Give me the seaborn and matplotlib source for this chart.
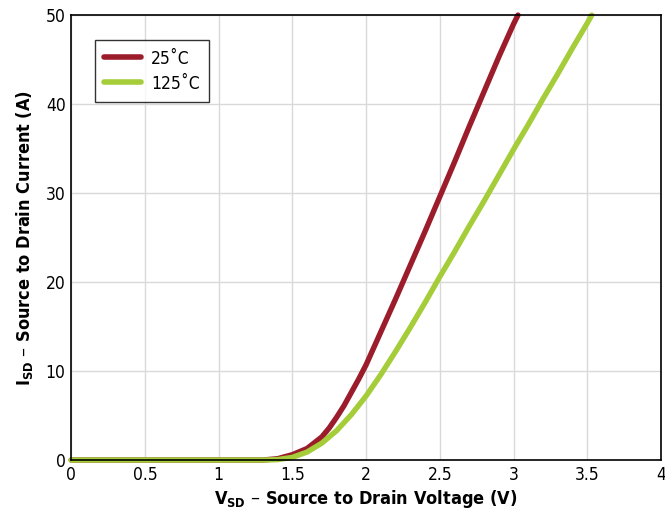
import matplotlib
matplotlib.use("Agg")
import matplotlib.pyplot as plt
import numpy as np
import pandas as pd
import seaborn as sns
from matplotlib import font_manager

# forward diode curve
v_25 = [0, 0.5, 1.0, 1.3, 1.4, 1.5, 1.6, 1.7, 1.75, 1.8, 1.85, 1.9, 1.95, 2.0, 2.1, 2.2,
        2.3, 2.4, 2.5, 2.6, 2.7, 2.8, 2.9, 3.0, 3.03]
i_25 = [0, 0, 0, 0, 0.15, 0.6, 1.3, 2.6, 3.6, 4.8, 6.1, 7.6, 9.1, 10.7, 14.4, 18.1,
        21.9, 25.7, 29.6, 33.5, 37.5, 41.4, 45.3, 49.0, 50.0]

v_125 = [0, 0.5, 1.0, 1.3, 1.4, 1.5, 1.6, 1.7, 1.8, 1.9, 2.0, 2.1, 2.2, 2.3, 2.4, 2.5,
         2.6, 2.7, 2.8, 2.9, 3.0, 3.1, 3.2, 3.3, 3.4, 3.5, 3.53]
i_125 = [0, 0, 0, 0, 0.05, 0.3, 0.9, 1.9, 3.3, 5.1, 7.2, 9.6, 12.2, 14.9, 17.7, 20.6,
         23.4, 26.3, 29.1, 32.0, 34.9, 37.7, 40.6, 43.4, 46.3, 49.1, 50.0]

labels = ["25˚C", "125˚C"]
colors = ["#9b1c2b", "#a5cd39"]

df = pd.concat([
    pd.DataFrame({"v": v_25, "i": i_25, "temp": labels[0]}),
    pd.DataFrame({"v": v_125, "i": i_125, "temp": labels[1]}),
])

sns.set_style("white")
names = {f.name for f in font_manager.fontManager.ttflist}
narrow = [n for n in ["Liberation Sans Narrow", "DejaVu Sans Condensed"] if n in names]
plt.rcParams["font.family"] = narrow + ["DejaVu Sans"]
plt.rcParams["font.stretch"] = "condensed"
plt.rcParams["text.color"] = "black"
plt.rcParams["axes.labelcolor"] = "black"
plt.rcParams["xtick.color"] = "black"
plt.rcParams["ytick.color"] = "black"

fig = plt.figure(figsize=(6.65, 5.21), dpi=100)
ax = fig.add_axes([0.107, 0.117, 0.887, 0.854])

sns.lineplot(data=df, x="v", y="i", hue="temp", palette=colors, linewidth=3.9,
             ax=ax, legend=True, sort=False)
for ln in ax.lines:
    ln.set_clip_on(False)
    ln.set_solid_joinstyle("round")

ax.set_xlim(0, 4)
ax.set_ylim(0, 50)
ax.set_xticks(np.arange(0, 4.01, 0.5))
ax.set_xticklabels(["0", "0.5", "1", "1.5", "2", "2.5", "3", "3.5", "4"])
ax.set_yticks(range(0, 51, 10))
ax.tick_params(labelsize=12.5, length=0, pad=4)
ax.grid(True, color="#d9d9d9", linewidth=1)
for s in ax.spines.values():
    s.set_visible(True)
    s.set_color("black")
    s.set_linewidth(1.2)

ax.set_xlabel(r"V$_{\mathbf{SD}}$ – Source to Drain Voltage (V)", fontsize=13,
              fontweight="bold", labelpad=3)
ax.set_ylabel(r"I$_{\mathbf{SD}}$ – Source to Drain Current (A)", fontsize=13,
              fontweight="bold", labelpad=8)

leg = ax.legend(title=None, loc="upper left", bbox_to_anchor=(0.04, 0.944),
                borderaxespad=0, fontsize=12.5, frameon=True, fancybox=False,
                handlelength=2.1, handletextpad=0.6, borderpad=0.55,
                labelspacing=0.4)
leg.get_frame().set_edgecolor("black")
leg.get_frame().set_linewidth(1.0)
for h in leg.get_lines():
    h.set_linewidth(4)
    h.set_solid_capstyle("round")

fig.savefig("out.png", dpi=100)
